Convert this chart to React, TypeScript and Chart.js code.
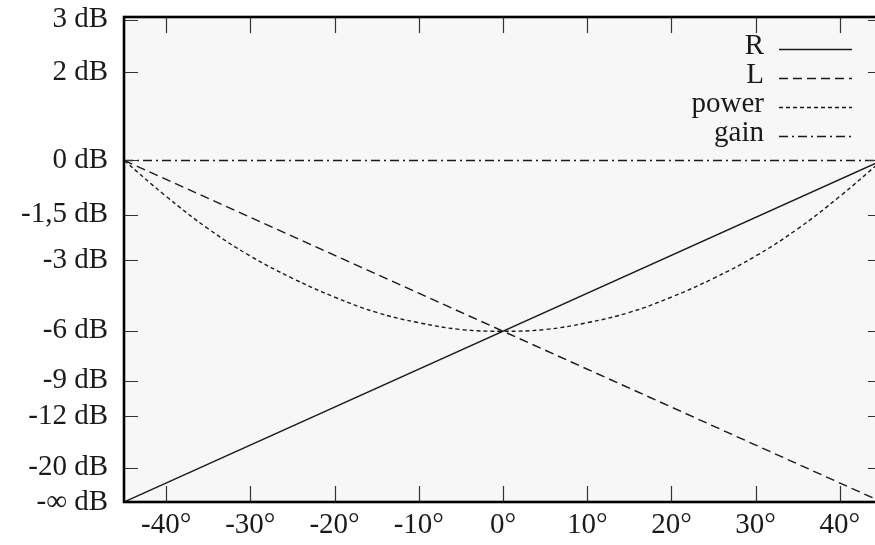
import React, { useEffect, useRef } from "react";
import { Chart, registerables } from "chart.js";

Chart.register(...registerables);

// ---- data ----
const lineAngles = [-45, 45];
const rValues = [0, 1];
const lValues = [1, 0];
const gainValues = [1, 1];

const powerAngles = [-45, -40, -35, -30, -25, -20, -15, -10, -5, 0, 5, 10, 15, 20, 25, 30, 35, 40, 45];
const powerValues = [1.0, 0.895, 0.8, 0.72, 0.655, 0.6, 0.555, 0.525, 0.505, 0.5, 0.505, 0.525, 0.555, 0.6, 0.655, 0.72, 0.8, 0.895, 1.0];

const xTickValues = [-40, -30, -20, -10, 0, 10, 20, 30, 40];
const xTickLabels = ["-40°", "-30°", "-20°", "-10°", "0°", "10°", "20°", "30°", "40°"];

const yTickValues = [1.4125, 1.2589, 1, 0.8414, 0.7079, 0.5012, 0.3548, 0.2512, 0.1, 0];
const yTickLabels = ["3 dB", "2 dB", "0 dB", "-1,5 dB", "-3 dB", "-6 dB", "-9 dB", "-12 dB", "-20 dB", "-∞ dB"];

const seriesNames = ["R", "L", "power", "gain"];
const seriesDashes: number[][] = [[], [9, 5], [4, 3], [9, 4, 2, 4]];

const FONT = "'Liberation Serif', 'DejaVu Serif', serif";
const FONT_SIZE = 29;
const INK = "#1a1a1a";

function pairs(xs: number[], ys: number[]) {
  return xs.map((x, i) => ({ x, y: ys[i] }));
}

export default function App() {
  const ref = useRef<HTMLCanvasElement | null>(null);

  useEffect(() => {
    if (!ref.current) return;

    const framePlugin = {
      id: "frame",
      beforeDatasetsDraw(chart: any) {
        const { ctx, chartArea } = chart;
        ctx.save();
        ctx.fillStyle = "#f7f7f7";
        ctx.fillRect(chartArea.left, chartArea.top, chartArea.right - chartArea.left, chartArea.bottom - chartArea.top);
        ctx.restore();
      },
      afterDatasetsDraw(chart: any) {
        const { ctx, chartArea, scales } = chart;
        const { left, right, top, bottom } = chartArea;
        ctx.save();
        // inner ticks
        ctx.strokeStyle = "#333";
        ctx.lineWidth = 1.2;
        ctx.beginPath();
        xTickValues.forEach((v) => {
          const px = Math.round(scales.x.getPixelForValue(v)) + 0.5;
          ctx.moveTo(px, bottom);
          ctx.lineTo(px, bottom - 16);
          ctx.moveTo(px, top);
          ctx.lineTo(px, top + 16);
        });
        yTickValues.forEach((v) => {
          const py = Math.round(scales.y.getPixelForValue(v)) + 0.5;
          ctx.moveTo(left, py);
          ctx.lineTo(left + 14, py);
          ctx.moveTo(right, py);
          ctx.lineTo(right - 14, py);
        });
        ctx.stroke();

        // frame
        ctx.strokeStyle = "#000";
        ctx.lineWidth = 2.6;
        ctx.strokeRect(left, top, right - left, bottom - top);

        // legend
        ctx.font = `${FONT_SIZE}px ${FONT}`;
        ctx.textAlign = "right";
        ctx.textBaseline = "middle";
        chart.data.datasets.forEach((ds: any, i: number) => {
          const y = top + 32 + i * 29;
          ctx.fillStyle = INK;
          ctx.fillText(ds.label, right - 118, y - 3);
          ctx.strokeStyle = INK;
          ctx.lineWidth = 1.4;
          ctx.setLineDash(ds.borderDash || []);
          ctx.beginPath();
          ctx.moveTo(right - 103, y + 0.5);
          ctx.lineTo(right - 30, y + 0.5);
          ctx.stroke();
          ctx.setLineDash([]);
        });
        ctx.restore();
      },
    };

    const mk = (i: number, data: any[]) => ({
      label: seriesNames[i],
      data,
      borderColor: INK,
      borderWidth: 1.4,
      borderDash: seriesDashes[i],
      pointRadius: 0,
      fill: false,
      tension: i === 2 ? 0.4 : 0,
    });

    const chart = new Chart(ref.current, {
      type: "line",
      data: {
        datasets: [
          mk(0, pairs(lineAngles, rValues)),
          mk(1, pairs(lineAngles, lValues)),
          mk(2, pairs(powerAngles, powerValues)),
          mk(3, pairs(lineAngles, gainValues)),
        ],
      },
      options: {
        animation: false,
        responsive: false,
        devicePixelRatio: 1,
        layout: { padding: { top: 17, right: 8, left: 0, bottom: 0 } },
        plugins: { legend: { display: false }, tooltip: { enabled: false } },
        scales: {
          x: {
            type: "linear",
            min: -45,
            max: 45,
            grid: { display: false, drawTicks: false },
            border: { display: false },
            afterBuildTicks: (scale: any) => {
              scale.ticks = xTickValues.map((v) => ({ value: v }));
            },
            afterFit: (scale: any) => {
              scale.height = 43;
              scale.paddingLeft = 0;
              scale.paddingRight = 0;
            },
            ticks: {
              autoSkip: false,
              maxRotation: 0,
              padding: 6,
              color: INK,
              font: { family: FONT, size: FONT_SIZE },
              callback: (_v: any, i: number) => xTickLabels[i],
            },
          },
          y: {
            type: "linear",
            min: 0,
            max: 1.42,
            grid: { display: false, drawTicks: false },
            border: { display: false },
            afterBuildTicks: (scale: any) => {
              scale.ticks = yTickValues.map((v) => ({ value: v }));
            },
            afterFit: (scale: any) => {
              scale.width = 124;
              scale.paddingTop = 0;
              scale.paddingBottom = 0;
            },
            ticks: {
              autoSkip: false,
              padding: 16,
              color: INK,
              font: { family: FONT, size: FONT_SIZE },
              callback: (_v: any, i: number) => yTickLabels[i],
            },
          },
        },
      },
      plugins: [framePlugin],
    } as any);

    return () => chart.destroy();
  }, []);

  return (
    <div
      style={{
        position: "fixed",
        left: 0,
        top: 0,
        width: 875,
        height: 545,
        overflow: "hidden",
        background: "#fff",
      }}
    >
      <canvas ref={ref} width={890} height={545} style={{ display: "block", width: 890, height: 545 }} />
    </div>
  );
}
